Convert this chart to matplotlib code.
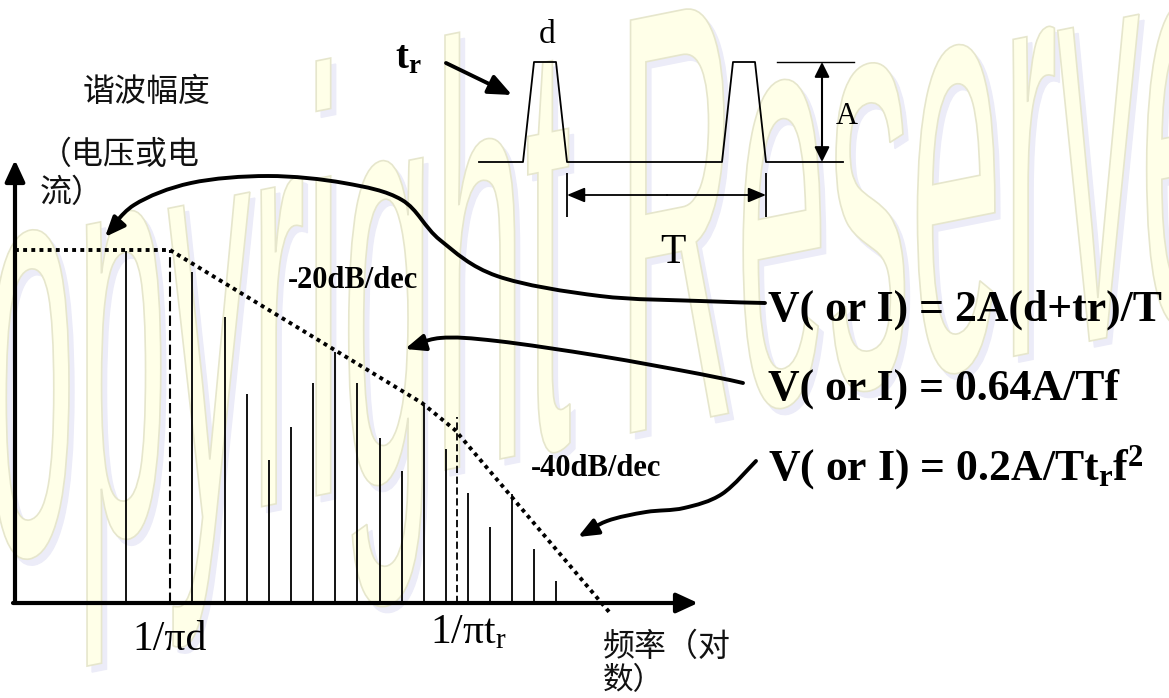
import numpy as np
import matplotlib
matplotlib.use("Agg")
import matplotlib.pyplot as plt
from matplotlib.path import Path
from matplotlib.patches import PathPatch, FancyArrowPatch
from matplotlib.textpath import TextPath
from matplotlib.font_manager import FontProperties
from matplotlib.transforms import Affine2D

plt.rcParams["mathtext.fontset"] = "custom"
plt.rcParams["mathtext.rm"] = "Liberation Serif"
plt.rcParams["mathtext.bf"] = "Liberation Serif:bold"
plt.rcParams["mathtext.it"] = "Liberation Serif:italic"

# ---- data (canvas units: x to the right, y downward) ----
harm_freq = [126, 192, 225, 247, 269, 291, 313, 335, 357, 380,
             402, 424, 446, 468, 490, 512, 534, 556]
harm_top = [251, 272, 317, 394, 460, 427, 383, 352, 383, 438,
            471, 405, 449, 493, 527, 494, 549, 581]
env_freq = [15, 170, 422, 455, 610]
env_level = [250, 250, 403, 430, 613]
corner_freq = [170, 457]
corner_level = [250, 417]
corner_labels = ["1/πd", "1/πt$_\\mathrm{r}$"]
slope_labels = ["-20dB/dec", "-40dB/dec"]
equations = ["V( or I) = 2A(d+tr)/T",
             "V( or I) = 0.64A/Tf",
             "V( or I) = 0.2A/Tt$_\\mathbf{r}$f$^\\mathbf{2}$"]

BASE = 603
CJK = ["Noto Sans CJK SC", "DejaVu Sans"]
SERIF = "Liberation Serif"

fig = plt.figure(figsize=(11.69, 6.98), dpi=100)
ax = fig.add_axes([0, 0, 1, 1])
ax.set_xlim(0, 1169)
ax.set_ylim(698, 0)
ax.axis("off")

# ---- background watermark ----
tp = TextPath((0, 0), "Copyright Reserved", size=1000,
              prop=FontProperties(family="Liberation Sans"))
sx, sy, X0, k = 0.165, 0.6, -135.0, 0.2
wm = Affine2D.from_values(sx, -k * sx, 0, -sy, X0, 559 - k * X0)
ax.add_patch(PathPatch(tp, transform=wm + Affine2D().translate(5, 6) + ax.transData,
                       facecolor="#ECECF8", edgecolor="#ECECF8", lw=1, zorder=0))
ax.add_patch(PathPatch(tp, transform=wm + ax.transData,
                       facecolor="#FFFFE8", edgecolor="#E6E6CC", lw=1.2, zorder=0.5))


def smooth_path(pts):
    pts = np.asarray(pts, float)
    verts = [pts[0]]
    codes = [Path.MOVETO]
    n = len(pts)
    for i in range(n - 1):
        p0 = pts[i - 1] if i > 0 else pts[i]
        p1, p2 = pts[i], pts[i + 1]
        p3 = pts[i + 2] if i + 2 < n else pts[i + 1]
        verts += [p1 + (p2 - p0) / 6, p2 - (p3 - p1) / 6, p2]
        codes += [Path.CURVE4] * 3
    return Path(verts, codes)


def arrow(p_from, p_to, lw, hl, hw, ms=20, style="-|>"):
    ax.add_patch(FancyArrowPatch(p_from, p_to,
                                 arrowstyle=f"{style},head_length={hl},head_width={hw}",
                                 mutation_scale=ms, lw=lw, color="black",
                                 shrinkA=0, shrinkB=0, zorder=5))


# ---- spectrum axes ----
arrow((15, BASE), (15, 160), 3, 0.65, 0.3)
arrow((13, BASE), (698, BASE), 3, 0.65, 0.3)

# harmonic lines
ax.vlines(harm_freq, BASE, harm_top, colors="black", lw=1.3, zorder=4)

# envelope
ax.plot(env_freq, env_level, color="black", lw=2.8,
        linestyle=(0, (1, 1.1)), zorder=4)

# corner frequency markers
ax.vlines(corner_freq[0], BASE, corner_level[0], colors="black", lw=1.5,
          linestyles=[(0, (5, 2))], zorder=4)
ax.vlines(corner_freq[1], BASE, corner_level[1], colors="black", lw=1.3,
          linestyles=[(0, (4, 2))], zorder=4)

ax.text(170, 640, corner_labels[0], fontsize=30, family=SERIF,
        ha="center", va="center")
ax.text(430, 643, corner_labels[1], fontsize=30, family=SERIF,
        ha="left", va="baseline")

ax.text(353, 280, slope_labels[0], fontsize=22, family=SERIF,
        fontweight="bold", ha="center", va="center")
ax.text(596, 468, slope_labels[1], fontsize=22, family=SERIF,
        fontweight="bold", ha="center", va="center")

# axis titles
ax.text(147, 92, "谐波幅度", fontsize=23, family=CJK, ha="center", va="center",
        color="#111111")
ax.text(40, 155, "（电压或电", fontsize=23, family=CJK, ha="left", va="center",
        color="#111111")
ax.text(40, 193, "流）", fontsize=23, family=CJK, ha="left", va="center",
        color="#111111")
ax.text(603, 647, "频率（对", fontsize=23, family=CJK, ha="left", va="center",
        color="#111111")
ax.text(603, 681, "数）", fontsize=22, family=CJK, ha="left", va="center",
        color="#111111")

# ---- trapezoidal pulse train ----
pulse_x = [479, 523, 534, 556, 567, 722, 733, 755, 766, 843]
pulse_y = [162, 162, 62, 62, 162, 162, 62, 62, 162, 162]
ax.plot(pulse_x, pulse_y, color="black", lw=1.3, zorder=4)
ax.plot([777, 854], [62, 62], color="black", lw=1.0, zorder=4)
arrow((822, 112), (822, 62), 1.5, 0.5, 0.25, ms=18)
arrow((822, 112), (822, 162), 1.5, 0.5, 0.25, ms=18)
ax.text(847, 116, "A", fontsize=22, family=SERIF, ha="center", va="center")
ax.text(547, 35, "d", fontsize=24, family=SERIF, ha="center", va="center")
ax.vlines([567, 766], 173, 217, colors="black", lw=1.3, zorder=4)
arrow((667, 195), (567, 195), 1.3, 0.6, 0.25, ms=18)
arrow((667, 195), (766, 195), 1.3, 0.6, 0.25, ms=18)
ax.text(673, 253, "T", fontsize=30, family=SERIF, ha="center", va="center")
ax.text(395, 68, "t$_\\mathbf{r}$", fontsize=28, family=SERIF, fontweight="bold",
        ha="left", va="baseline")
arrow((446, 63), (512, 95), 2.8, 0.7, 0.3)

# ---- formulas and leader arrows ----
eq_y = [321, 400, 480]
for s, y in zip(equations, eq_y):
    ax.text(768, y, s, fontsize=31.5, family=SERIF, fontweight="bold",
            ha="left", va="baseline")

curve1 = [(765, 303), (700, 301), (600, 296), (497, 276), (440, 240),
          (402, 200), (344, 183), (268, 176), (191, 183), (134, 205), (105, 237)]
curve2 = [(743, 383), (700, 374), (600, 356), (497, 341), (440, 338), (405, 349)]
curve3 = [(756, 461), (722, 494), (684, 508), (646, 512), (607, 521), (578, 537)]
for c in (curve1, curve2, curve3):
    ax.add_patch(FancyArrowPatch(path=smooth_path(c),
                                 arrowstyle="-|>,head_length=0.6,head_width=0.25",
                                 mutation_scale=20, lw=2.8, color="black", zorder=5))

fig.savefig("out.png", dpi=100)
